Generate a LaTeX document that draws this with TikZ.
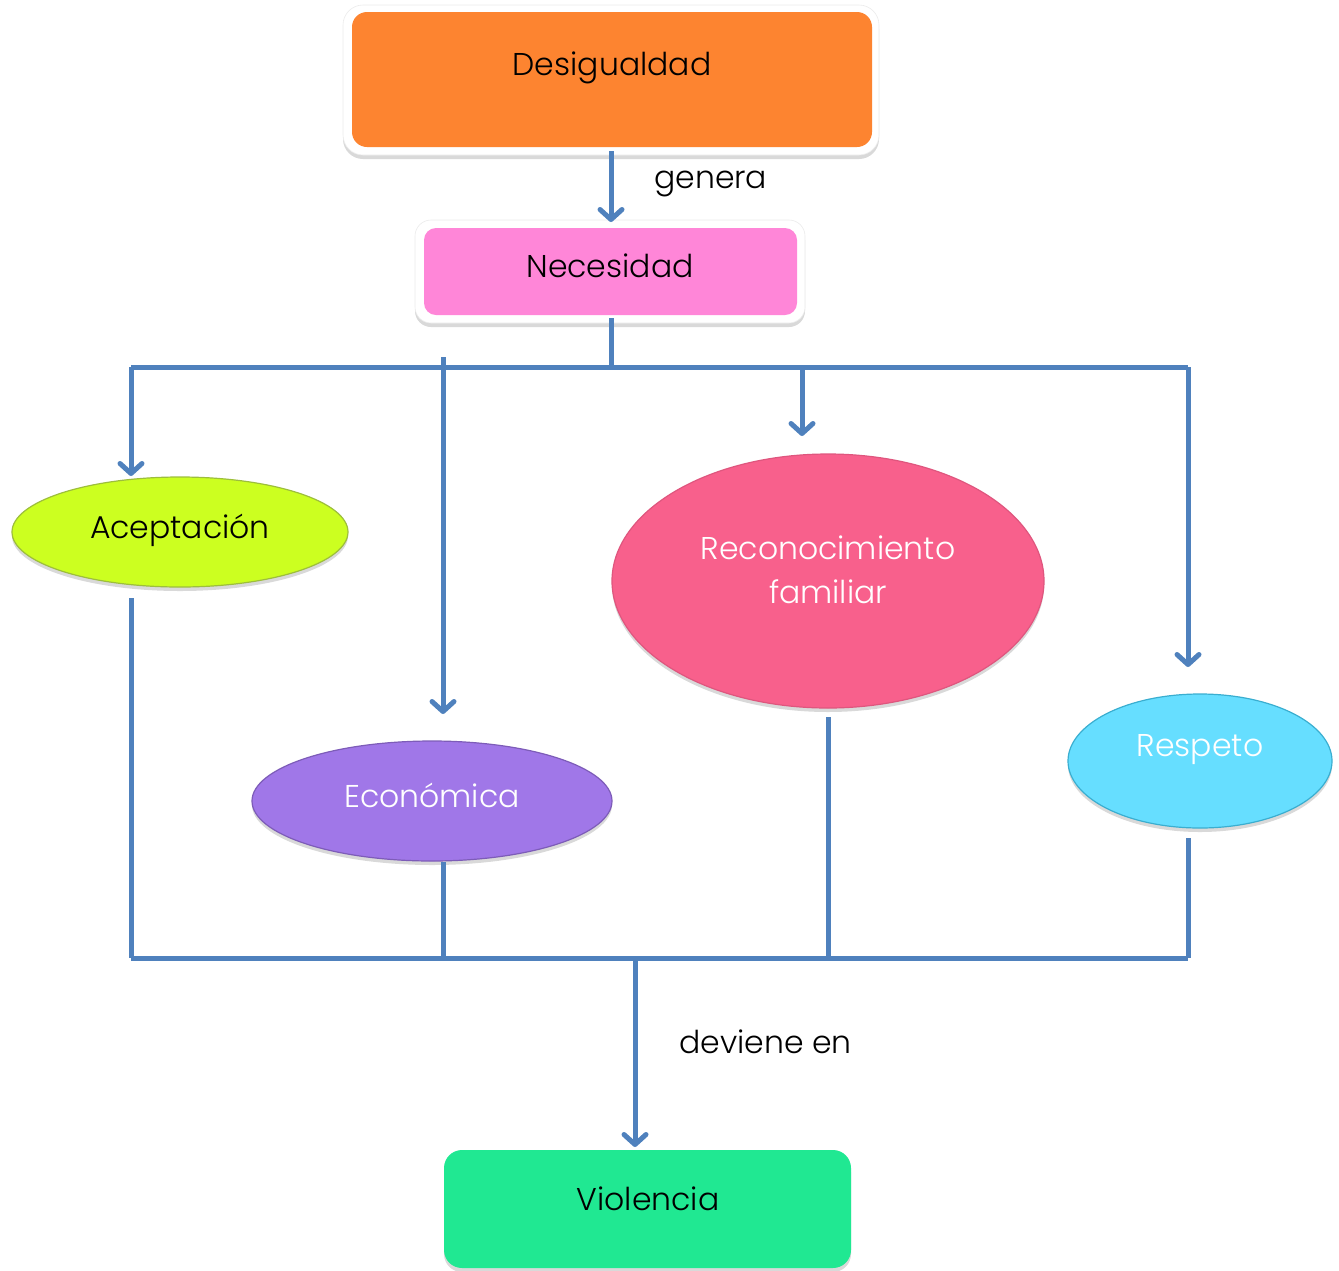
\documentclass[tikz,border=0pt]{standalone}
\usepackage{fontspec}
\setmainfont{Poppins Light}
\usetikzlibrary{arrows.meta,shapes.geometric,shadows}
\definecolor{lineblue}{HTML}{4F81BD}
\definecolor{corange}{HTML}{FD8430}
\definecolor{cpink}{HTML}{FF86D8}
\definecolor{clime}{HTML}{CCFF20}
\definecolor{climeb}{HTML}{9DBE3C}
\definecolor{cpurple}{HTML}{A077E8}
\definecolor{cpurpleb}{HTML}{7D5CB8}
\definecolor{crose}{HTML}{F8608C}
\definecolor{ccyan}{HTML}{66DEFF}
\definecolor{ccyanb}{HTML}{3AAED0}
\definecolor{cgreen}{HTML}{20E892}
\tikzset{
  conn/.style={draw=lineblue, line width=5pt},
  arr/.style={conn, -{Straight Barb[length=10pt,width=22pt,line cap=round,line join=round]}},
  shad/.style={drop shadow={opacity=0.3, shadow xshift=0pt, shadow yshift=-4pt}},
  frame/.style={fill=white, draw=black!8, line width=0.6pt, rounded corners=20pt, shad},
  txt/.style={font=\fontsize{31.5}{36}\selectfont, inner sep=0pt},
  wtxt/.style={txt, text=white},
  ell/.style={ellipse, inner sep=0pt, line width=1.2pt, shad}
}
\begin{document}
\begin{tikzpicture}[x=1pt,y=-1pt]
\useasboundingbox (0,0) rectangle (1339,1270);
% Desigualdad
\path[frame] (343,5) rectangle (879,155);
\node[fill=corange, rounded corners=15pt, minimum width=520pt, minimum height=135pt, inner sep=0pt] (desig) at (612,79.5) {};
\node[txt] (desigT) at (612,68) {Desigualdad};
% Necesidad
\path[frame, rounded corners=16pt] (415,220) rectangle (805,323);
\node[fill=cpink, rounded corners=12pt, minimum width=373pt, minimum height=87pt, inner sep=0pt] (nec) at (610.5,271.5) {};
\node[txt] (necT) at (610,266) {Necesidad};
% ellipses
\node[ell, fill=clime, draw=climeb, minimum width=336pt, minimum height=110pt] (acep) at (180,532) {};
\node[txt] (acepT) at (180,530) {Aceptación};
\node[ell, fill=cpurple, draw=cpurpleb, minimum width=360pt, minimum height=120pt] (econ) at (432,801) {};
\node[wtxt] (econT) at (432,795) {Económica};
\node[ell, fill=crose, draw=crose!90!black, minimum width=432pt, minimum height=254pt] (reco) at (828,581) {};
\node[wtxt] (recoT1) at (828,548) {Reconocimiento};
\node[wtxt] (recoT2) at (828,592) {familiar};
\node[ell, fill=ccyan, draw=ccyanb, minimum width=264pt, minimum height=134pt] (resp) at (1200,761) {};
\node[wtxt] (respT) at (1200,750) {Respeto};
% Violencia
\node[fill=cgreen, rounded corners=18pt, minimum width=407pt, minimum height=118pt, inner sep=0pt, shad] (viol) at (647.5,1209) {};
\node[txt] (violT) at (648,1199) {Violencia};
% labels
\node[txt, anchor=west] (genera) at (654,184) {genera};
\node[txt, anchor=west] (deviene) at (679,1042) {deviene en};
% coordinates
\coordinate (dB) at (611,151);
\coordinate (nTop) at (611,222);
\coordinate (nB) at (611,318);
\coordinate (barM) at (611,367);
\coordinate (barL) at (131,367);
\coordinate (barR) at (1188,367);
\coordinate (aTip) at (131,476);
\coordinate (eTop) at (443,357);
\coordinate (eTip) at (443,714);
\coordinate (rTop) at (802,367);
\coordinate (rTip) at (802,436);
\coordinate (sTip) at (1188,667);
\coordinate (aB) at (131,598);
\coordinate (eB) at (443,862);
\coordinate (rB) at (828,717);
\coordinate (sB) at (1188,838);
\coordinate (bL) at (131,958);
\coordinate (bE) at (443,958);
\coordinate (bR) at (828,958);
\coordinate (bS) at (1188,958);
\coordinate (bM) at (635,958);
\coordinate (vTip) at (635,1147);
% connectors
\draw[arr] (dB) -- (nTop);
\draw[conn] (nB) -- (barM);
\draw[conn] (barL) -- (barR);
\draw[arr] (barL) -- (aTip);
\draw[arr] (eTop) -- (eTip);
\draw[arr] (rTop) -- (rTip);
\draw[arr] (barR) -- (sTip);
\draw[conn] (aB) -- (bL);
\draw[conn] (eB) -- (bE);
\draw[conn] (rB) -- (bR);
\draw[conn] (sB) -- (bS);
\draw[conn] (bL) -- (bS);
\draw[arr] (bM) -- (vTip);
\end{tikzpicture}
\end{document}
